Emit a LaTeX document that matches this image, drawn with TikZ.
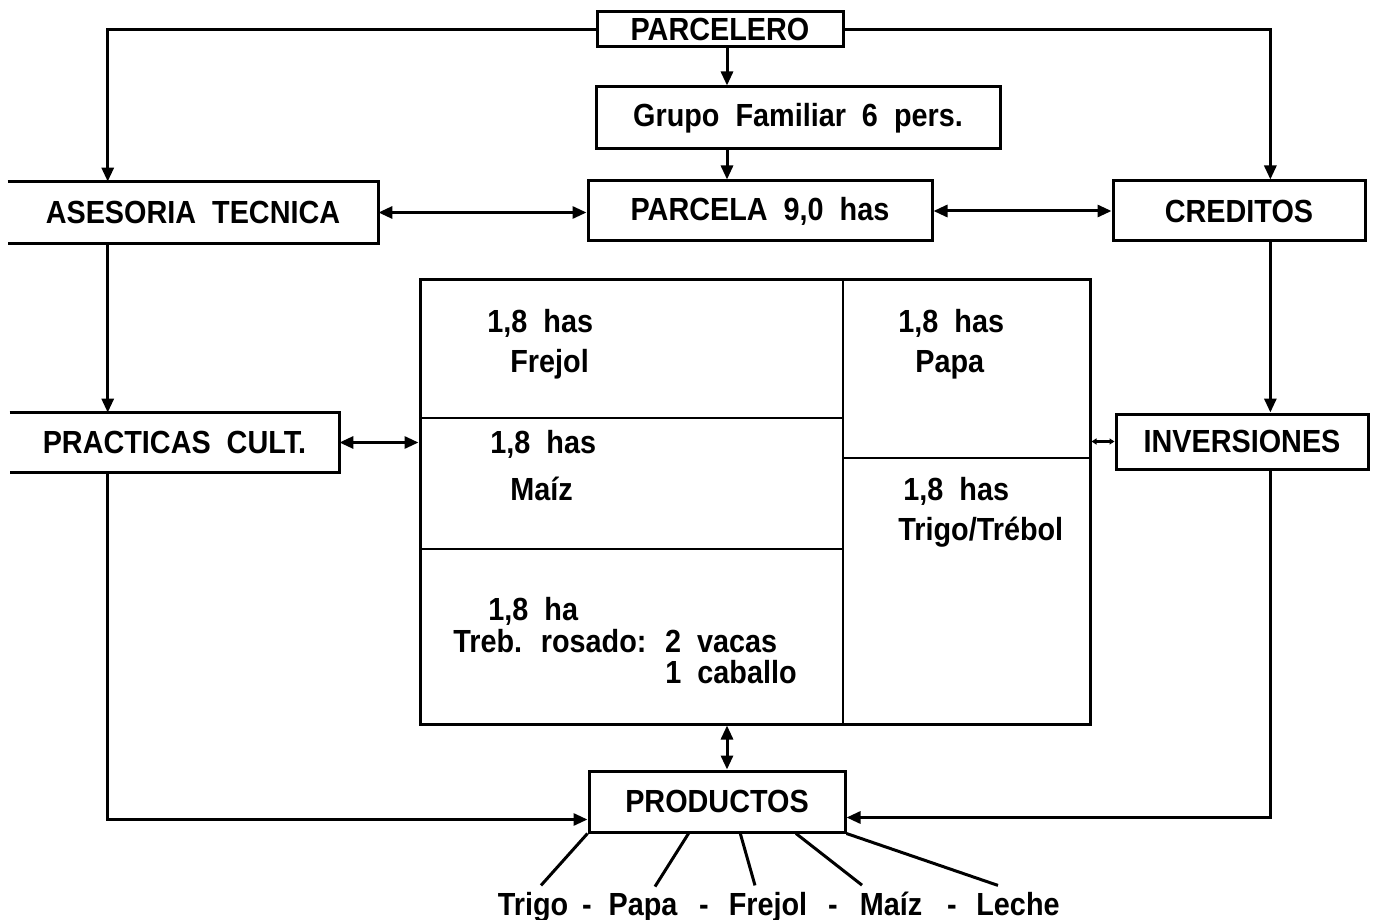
\documentclass[tikz,border=0pt]{standalone}
\usepackage{fontspec}
\setmainfont{Liberation Sans}[FakeStretch=0.9, WordSpace=2]
\usetikzlibrary{arrows.meta,calc}
\tikzset{
  lbl/.style={font=\bfseries\fontsize{16}{19}\selectfont, inner sep=0pt},
  box/.style={lbl, draw, rectangle, line width=1.5pt},
  openbox/.style={lbl, rectangle},
  tri/.style={-{Triangle[length=7pt,width=6pt]}},
  tritwo/.style={{Triangle[length=7pt,width=6pt]}-{Triangle[length=7pt,width=6pt]}},
  smalltwo/.style={{Triangle[length=2.5pt,width=3pt]}-{Triangle[length=2.5pt,width=3pt]}},
  conn/.style={line width=1.5pt},
  thin/.style={line width=1.2pt}
}
\begin{document}
\begin{tikzpicture}[x=0.5pt,y=-0.5pt]
\useasboundingbox (0,0) rectangle (1373,920);

% boxes
\node[box, minimum width=123pt, minimum height=17.5pt] (parcelero) at (720,29.5) {PARCELERO};
\node[box, minimum width=202pt, minimum height=31pt] (grupo) at (798,118) {Grupo Familiar 6 pers.};
\node[box, minimum width=172pt, minimum height=30pt] (parcela) at (760,211) {PARCELA 9,0 has};
\node[openbox, minimum width=185pt, minimum height=30.5pt] (ases) at (193,212.5) {ASESORIA TECNICA};
\node[box, minimum width=126pt, minimum height=30pt] (cred) at (1239,211) {CREDITOS};
\node[openbox, minimum width=164.5pt, minimum height=29.5pt] (prac) at (174.5,442.5) {PRACTICAS CULT.};
\node[box, minimum width=126pt, minimum height=27.5pt] (inv) at (1242,441.5) {INVERSIONES};
\node[box, minimum width=128pt, minimum height=30.5pt] (prod) at (717,801.5) {PRODUCTOS};
\node[draw, rectangle, line width=1.5pt, inner sep=0pt, minimum width=335pt, minimum height=222pt] (campo) at (755,502) {};

% open-left boxes
\draw[conn] (ases.north west) -- (ases.north east) -- (ases.south east) -- (ases.south west);
\draw[conn] (prac.north west) -- (prac.north east) -- (prac.south east) -- (prac.south west);

% field subdivisions
\draw[thin] (843,280) -- (843,724);
\draw[thin] (420,418) -- (843,418);
\draw[thin] (420,549) -- (843,549);
\draw[thin] (843,458) -- (1090,458);

% field texts
\node[lbl, anchor=base west] (t1a) at (487,332) {1,8 has};
\node[lbl, anchor=base west] (t1b) at (510,372) {Frejol};
\node[lbl, anchor=base west] (t2a) at (490,453) {1,8 has};
\node[lbl, anchor=base west] (t2b) at (510,500) {Maíz};
\node[lbl, anchor=base west] (t3a) at (488,620) {1,8 ha};
\node[lbl, anchor=base west] (t3b) at (453,652) {Treb. rosado: 2 vacas};
\node[lbl, anchor=base west] (t3c) at (665,683) {1 caballo};
\node[lbl, anchor=base west] (t4a) at (898,332) {1,8 has};
\node[lbl, anchor=base west] (t4b) at (915,372) {Papa};
\node[lbl, anchor=base west] (t5a) at (903,500) {1,8 has};
\node[lbl, anchor=base west] (t5b) at (898,540) {Trigo/Trébol};

% product words
\node[lbl, anchor=base] (wtrigo) at (533,915) {Trigo};
\node[lbl, anchor=base] (d1) at (587,915) {-};
\node[lbl, anchor=base] (wpapa) at (643,915) {Papa};
\node[lbl, anchor=base] (d2) at (704,915) {-};
\node[lbl, anchor=base] (wfrejol) at (768,915) {Frejol};
\node[lbl, anchor=base] (d3) at (833,915) {-};
\node[lbl, anchor=base] (wmaiz) at (891,915) {Maíz};
\node[lbl, anchor=base] (d4) at (952,915) {-};
\node[lbl, anchor=base] (wleche) at (1018,915) {Leche};

% coordinates for connectors
\coordinate (aTop) at ($(ases.north west)!0.27!(ases.north east)$);
\coordinate (aBot) at ($(ases.south west)!0.27!(ases.south east)$);
\coordinate (cTop) at ($(cred.north west)!0.623!(cred.north east)$);
\coordinate (cBot) at ($(cred.south west)!0.623!(cred.south east)$);
\coordinate (mid) at ($(parcelero.south)+(3.5pt,0)$);

% connectors
\draw[conn, tri] (parcelero.west) -| (aTop);
\draw[conn, tri] (parcelero.east) -| (cTop);
\draw[conn, tri] (mid) -- (mid |- grupo.north);
\draw[conn, tri] (mid |- grupo.south) -- (mid |- parcela.north);
\draw[conn, tritwo] (ases.east) -- (ases.east -| parcela.west);
\draw[conn, tritwo] (parcela.east) -- (parcela.east -| cred.west);
\draw[conn, tri] (aBot) -- (aBot |- prac.north);
\draw[conn, tri] (cBot) -- (cBot |- inv.north);
\draw[conn, tritwo] (prac.east) -- (prac.east -| campo.west);
\draw[conn, smalltwo] (inv.west -| campo.east) -- (inv.west);
\draw[conn, tri] (aBot |- prac.south) |- ([yshift=-9pt]prod.west);
\draw[conn, tri] (cBot |- inv.south) |- ([yshift=-8pt]prod.east);
\draw[conn, tritwo] (mid |- campo.south) -- (mid |- prod.north);

% product lines
\draw[conn] (prod.south west) -- ([xshift=4pt,yshift=3pt]wtrigo.north);
\draw[conn] ($(prod.south west)!0.39!(prod.south east)$) -- ([xshift=6pt,yshift=3pt]wpapa.north);
\draw[conn] ($(prod.south west)!0.59!(prod.south east)$) -- ([xshift=-6.5pt,yshift=3pt]wfrejol.north);
\draw[conn] ($(prod.south west)!0.805!(prod.south east)$) -- ([xshift=-14.5pt,yshift=3pt]wmaiz.north);
\draw[conn] (prod.south east) -- ([xshift=-10pt,yshift=3pt]wleche.north);
\end{tikzpicture}
\end{document}
